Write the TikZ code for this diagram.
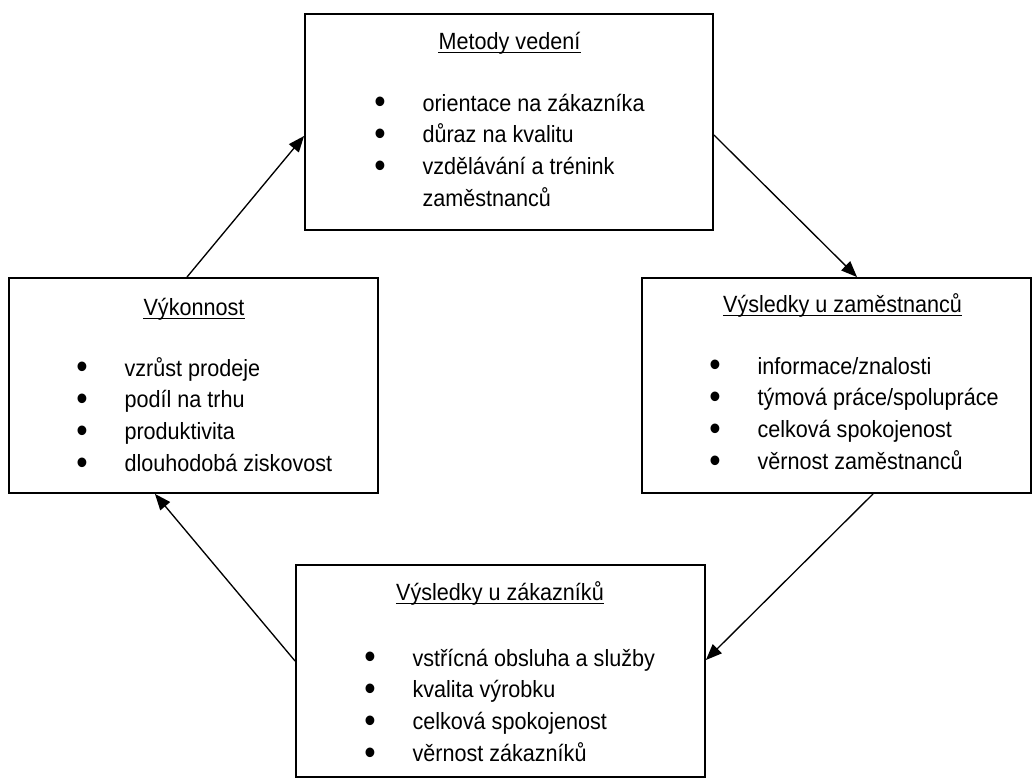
\documentclass[tikz,border=0pt]{standalone}
\usepackage{fontspec}
\setmainfont{Liberation Sans}[FakeStretch=0.92]
\usetikzlibrary{arrows.meta}

\newcommand{\bul}[1]{\makebox[36.2pt][l]{\raisebox{-0.12em}{\scalebox{1.5}{•}}}#1}
\newcommand{\cont}[1]{\hspace*{36.2pt}#1}

\begin{document}
\begin{tikzpicture}[
        x=0.75pt, y=-0.75pt,
        panel/.style={
            rectangle,
            draw=black,
            line width=1.4pt,
            inner sep=0pt
        },
        heading/.style={
            anchor=base,
            inner sep=0pt,
            font=\fontsize{17.6}{23.8}\selectfont
        },
        items/.style={
            anchor=base west,
            inner sep=0pt,
            font=\fontsize{17.6}{23.8}\selectfont
        },
        flow/.style={
            line width=1pt,
            -{Triangle[length=12pt, width=9.5pt]}
        }
    ]
    \useasboundingbox (0,0) rectangle (1032,778);

    % Boxes
    \node (metody) [panel, minimum width=306pt, minimum height=162pt] at (509,122) {};
    \node (vyk) [panel, minimum width=276.75pt, minimum height=161.25pt] at (193.5,385.5) {};
    \node (zam) [panel, minimum width=291.75pt, minimum height=161.25pt] at (836.5,385.5) {};
    \node (zak) [panel, minimum width=306.75pt, minimum height=159pt] at (500.5,671) {};

    % Titles
    \node (metodyT) [heading] at (509.5,49) {Metody vedení};
    \node (vykT) [heading] at (194,315) {Výkonnost};
    \node (zamT) [heading] at (842.5,312) {Výsledky u zaměstnanců};
    \node (zakT) [heading] at (500,600) {Výsledky u zákazníků};
    \foreach \t in {metodyT, vykT, zamT, zakT}
        \draw [line width=1pt] ([yshift=-2.6pt]\t.base west) -- ([yshift=-2.6pt]\t.base east);

    % Lists
    \node (metodyL) [items] at (374,111) {\begin{tabular}[t]{@{}l@{}}
        \bul{orientace na zákazníka}\\
        \bul{důraz na kvalitu}\\
        \bul{vzdělávání a trénink}\\
        \cont{zaměstnanců}
    \end{tabular}};
    \node (vykL) [items] at (76,376) {\begin{tabular}[t]{@{}l@{}}
        \bul{vzrůst prodeje}\\
        \bul{podíl na trhu}\\
        \bul{produktivita}\\
        \bul{dlouhodobá ziskovost}
    \end{tabular}};
    \node (zamL) [items] at (709,374) {\begin{tabular}[t]{@{}l@{}}
        \bul{informace/znalosti}\\
        \bul{týmová práce/spolupráce}\\
        \bul{celková spokojenost}\\
        \bul{věrnost zaměstnanců}
    \end{tabular}};
    \node (zakL) [items] at (364,666) {\begin{tabular}[t]{@{}l@{}}
        \bul{vstřícná obsluha a služby}\\
        \bul{kvalita výrobku}\\
        \bul{celková spokojenost}\\
        \bul{věrnost zákazníků}
    \end{tabular}};

    % Arrows
    \draw [flow] ([xshift=-4.9pt]vyk.north) -- ([yshift=-10.5pt]metody.west);
    \draw [flow] ([yshift=-9.75pt]metody.east) -- ([xshift=15.4pt]zam.north);
    \draw [flow] ([xshift=27.4pt]zam.south) -- ([yshift=8.25pt]zak.east);
    \draw [flow] ([yshift=7.5pt]zak.west) -- ([xshift=-28.9pt]vyk.south);

\end{tikzpicture}
\end{document}
